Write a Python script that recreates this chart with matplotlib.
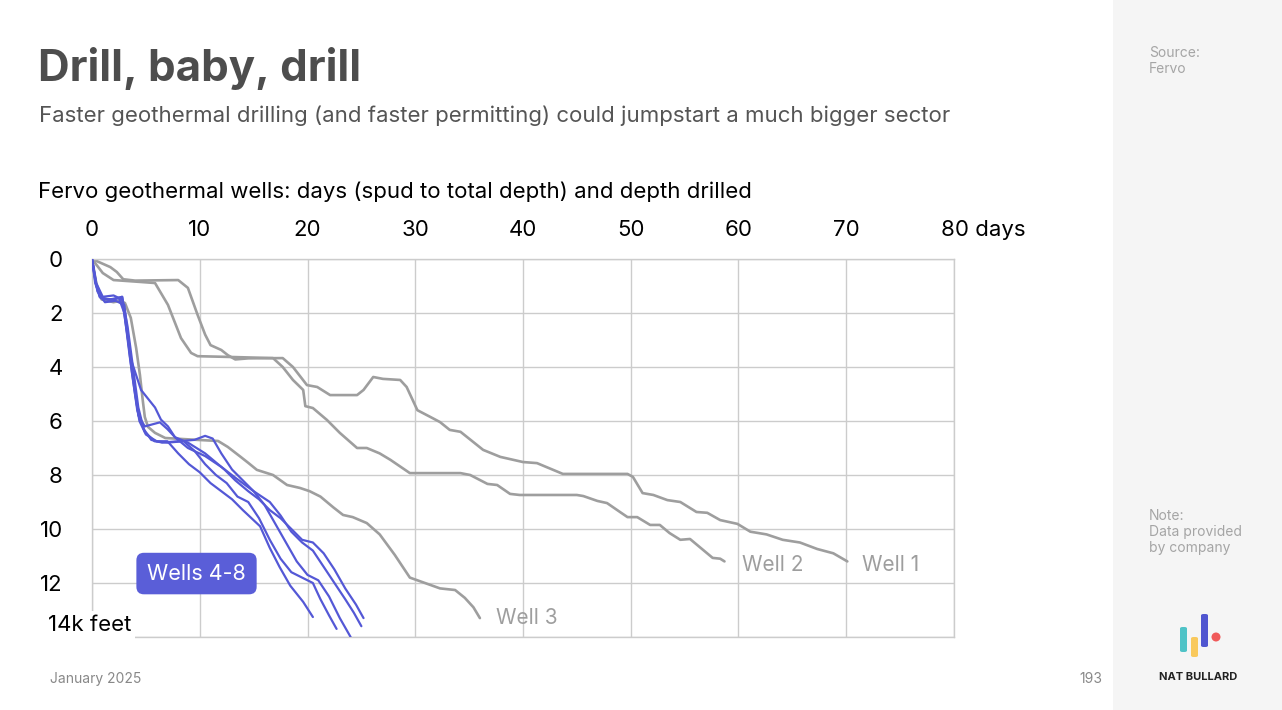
import matplotlib
matplotlib.use("Agg")
import matplotlib.pyplot as plt
from matplotlib.patches import Rectangle, FancyBboxPatch, Ellipse
from matplotlib.transforms import offset_copy

plt.rcParams["font.family"] = ["Inter", "DejaVu Sans"]

# Data: days since spud vs depth (thousand feet)
well1_days = [0, 1.7, 2.3, 2.9, 4, 8, 8.9, 9.8, 10.5, 11.0, 12.0, 12.6, 13.3, 14.5, 17.7,
              18.65, 19.95, 20.9, 22.1, 24.6, 25.2, 26.1, 27.0, 28.6, 29.2, 30.2, 31.4,
              32.3, 33.2, 34.2, 36.3, 37.9, 40.0, 41.3, 43.7, 49.7, 50.2, 51.1, 52.1,
              53.4, 54.6, 56.1, 57.1, 58.3, 59.9, 61.1, 62.6, 64.1, 65.7, 67.3, 68.8, 70.1]
well1_depth = [0, 0.3, 0.48, 0.75, 0.8, 0.78, 1.07, 2.07, 2.8, 3.19, 3.37, 3.56, 3.72, 3.68,
               3.67, 4.0, 4.67, 4.74, 5.04, 5.04, 4.85, 4.37, 4.44, 4.48, 4.74, 5.6, 5.85,
               6.04, 6.33, 6.4, 7.07, 7.33, 7.52, 7.56, 7.96, 7.96, 8.07, 8.67, 8.74,
               8.93, 9.0, 9.37, 9.4, 9.67, 9.81, 10.1, 10.2, 10.4, 10.5, 10.74, 10.9, 11.2]

well2_days = [0, 1.0, 2.0, 4.5, 5.85, 7.05, 8.26, 9.2, 9.8, 12, 16.8, 17.7, 18.65, 19.6,
              19.8, 20.5, 21.8, 23.0, 24.6, 25.5, 26.7, 27.7, 29.5, 34.2, 35.1, 36.7,
              37.6, 38.8, 39.7, 45.0, 45.6, 46.9, 47.8, 49.0, 49.7, 50.6, 51.8, 52.7,
              53.6, 54.6, 55.5, 56.4, 57.6, 58.3, 58.7]
well2_depth = [0, 0.52, 0.78, 0.85, 0.89, 1.7, 2.93, 3.48, 3.6, 3.62, 3.67, 4.0, 4.48, 4.85,
               5.45, 5.52, 5.96, 6.44, 7.0, 7.0, 7.2, 7.44, 7.93, 7.93, 8.0, 8.33,
               8.37, 8.7, 8.74, 8.74, 8.78, 8.96, 9.04, 9.37, 9.56, 9.56, 9.85, 9.85,
               10.15, 10.4, 10.37, 10.67, 11.07, 11.1, 11.2]

well3_days = [0, 0.4, 0.9, 2.0, 2.6, 3.06, 3.6, 4.1, 4.45, 4.7, 4.9, 5.2, 5.85, 6.8, 9.8,
              11.7, 12.6, 13.8, 14.5, 15.3, 16.8, 18.1, 19.3, 20.2, 21.2, 22.4, 23.3,
              24.2, 25.5, 26.7, 28.1, 29.5, 30.9, 32.3, 33.7, 34.6, 35.4, 36.0]
well3_depth = [0, 0.9, 1.5, 1.6, 1.55, 1.63, 2.18, 3.3, 4.3, 5.2, 5.85, 6.22, 6.44, 6.63, 6.7,
               6.74, 6.96, 7.33, 7.55, 7.81, 8.0, 8.37, 8.48, 8.6, 8.8, 9.2, 9.48,
               9.56, 9.78, 10.2, 10.96, 11.8, 12.0, 12.2, 12.26, 12.55, 12.9, 13.3]

well4_days = [0, 0.3, 0.7, 1.5, 2.5, 3.0, 3.5, 4.0, 4.4, 5.0, 6.0, 7.0, 8.0, 9.0, 10.0, 11.0,
              12.0, 13.0, 14.0, 15.6, 16.5, 17.4, 18.4, 19.0, 19.6, 20.5]
well4_depth = [0, 0.8, 1.4, 1.5, 1.45, 2.0, 3.6, 5.0, 6.0, 6.5, 6.75, 6.75, 7.2, 7.6, 7.9, 8.3,
               8.6, 8.9, 9.3, 9.9, 10.7, 11.4, 12.1, 12.4, 12.7, 13.26]

well5_days = [0, 0.4, 1, 2, 2.8, 3.3, 3.8, 4.3, 4.8, 5.5, 6.5, 8.0, 9.5, 10.5, 11.2, 12.0,
              13.0, 14.0, 15.0, 16.0, 17.0, 18.0, 19.0, 20.0, 21.0, 22.0, 23.0, 24.0]
well5_depth = [0, 1.0, 1.5, 1.5, 1.4, 2.5, 4.0, 5.5, 6.3, 6.7, 6.8, 6.75, 6.7, 6.55, 6.65, 7.2,
               7.8, 8.2, 8.6, 9.1, 9.8, 10.5, 11.2, 11.7, 11.9, 12.5, 13.3, 14.0]

well6_days = [0, 0.5, 1.2, 2.2, 3.0, 3.6, 4.0, 4.3, 4.9, 6.3, 7.0, 7.7, 8.9, 10.5, 12.0, 13.3,
              15.0, 16.5, 17.5, 18.5, 19.5, 20.5, 21.5, 22.5, 23.5, 24.3, 25.0]
well6_depth = [0, 1.2, 1.6, 1.55, 1.7, 3.7, 4.9, 5.8, 6.2, 6.05, 6.3, 6.6, 7.0, 7.3, 7.7, 8.1,
               8.6, 9.0, 9.5, 10.1, 10.5, 10.8, 11.4, 12.0, 12.6, 13.1, 13.6]

well7_days = [0, 0.4, 1.0, 2.0, 2.8, 3.6, 4.55, 5.85, 6.4, 7.05, 7.7, 8.9, 10.5, 12.3, 13.3,
              14.5, 15.5, 16.5, 17.5, 18.5, 19.5, 20.5, 21.5, 22.5, 23.5, 24.5, 25.2]
well7_depth = [0, 0.9, 1.4, 1.35, 1.5, 3.7, 4.85, 5.5, 5.95, 6.2, 6.6, 6.8, 7.2, 7.8, 8.2,
               8.6, 8.9, 9.3, 9.6, 10.0, 10.4, 10.5, 10.9, 11.5, 12.2, 12.8, 13.3]

well8_days = [0, 0.3, 0.8, 1.8, 2.8, 3.2, 3.7, 4.2, 4.9, 5.8, 7.0, 8.5, 9.5, 10.5, 11.5, 12.5,
              13.5, 14.5, 15.5, 16.5, 17.5, 18.5, 19.5, 20.5, 21.2, 22.0, 22.7]
well8_depth = [0, 0.9, 1.45, 1.5, 1.4, 2.5, 4.2, 5.6, 6.4, 6.75, 6.8, 6.75, 7.1, 7.6, 8.0, 8.3,
               8.8, 9.0, 9.6, 10.4, 11.1, 11.6, 11.8, 12.0, 12.6, 13.2, 13.7]

gray_wells = [(well1_days, well1_depth), (well2_days, well2_depth), (well3_days, well3_depth)]
blue_wells = [(well4_days, well4_depth), (well5_days, well5_depth), (well6_days, well6_depth),
              (well7_days, well7_depth), (well8_days, well8_depth)]

x_ticks = [0, 10, 20, 30, 40, 50, 60, 70, 80]
y_ticks = [0, 2, 4, 6, 8, 10, 12, 14]

GRAY = "#9e9e9e"
BLUE = "#5458d6"
W, H = 1282, 710

fig = plt.figure(figsize=(W / 100, H / 100), dpi=100)
fig.patch.set_facecolor("white")

# right side panel
fig.patches.append(Rectangle((1113 / W, 0), 1 - 1113 / W, 1, transform=fig.transFigure,
                             facecolor="#f5f5f5", edgecolor="none", zorder=0))

ax = fig.add_axes([92 / W, 1 - 637 / H, (954 - 92) / W, (637 - 259) / H])
ax.set_xlim(0, 80)
ax.set_ylim(14, 0)
ax.set_xticks(x_ticks)
ax.set_yticks(y_ticks)
ax.grid(True, color="#cccccc", linewidth=1)
for s in ax.spines.values():
    s.set_color("#cccccc")
    s.set_linewidth(1)
ax.set_axisbelow(True)
ax.tick_params(length=0, labelsize=16, colors="black")
ax.xaxis.tick_top()
ax.tick_params(axis="x", pad=14)
ax.tick_params(axis="y", pad=21)
ax.set_xticklabels([str(t) for t in x_ticks[:-1]] + [""])
ax.set_yticklabels([str(t) for t in y_ticks[:-1]] + [""])

for d, dep in gray_wells:
    ax.plot(d, dep, color=GRAY, lw=1.9, solid_joinstyle="round", solid_capstyle="round")
for d, dep in blue_wells:
    ax.plot(d, dep, color=BLUE, lw=1.6, solid_joinstyle="round", solid_capstyle="round", zorder=3)

# end labels
ax.text(71.5, 11.35, "Well 1", color=GRAY, fontsize=15, va="center", ha="left")
ax.text(60.3, 11.35, "Well 2", color=GRAY, fontsize=15, va="center", ha="left")
ax.text(37.5, 13.3, "Well 3", color=GRAY, fontsize=15, va="center", ha="left")
ax.text(9.7, 11.65, "Wells 4-8", color="white", fontsize=15.5, va="center", ha="center", zorder=5,
        bbox=dict(boxstyle="round,pad=0.5,rounding_size=0.35", facecolor="#5a5ed8",
                  edgecolor="none"))

# axis end labels
ax.text(80, -1.07, "80 days", fontsize=16, va="center", ha="left",
        transform=offset_copy(ax.transData, fig=fig, x=-13, y=0, units="dots"))
ax.text(-4.1, 13.55, "14k feet", fontsize=16, va="center", ha="left", zorder=6,
        bbox=dict(facecolor="white", edgecolor="none", pad=3), clip_on=False)

# titles
fig.text(38 / W, 1 - 69 / H, "Drill, baby, drill", fontsize=31.5, fontweight="bold",
         color="#4d4d4d", va="center", ha="left")
fig.text(39 / W, 1 - 116 / H, "Faster geothermal drilling (and faster permitting) could jumpstart a much bigger sector",
         fontsize=16, color="#555555", va="center", ha="left")
fig.text(38 / W, 1 - 192 / H, "Fervo geothermal wells: days (spud to total depth) and depth drilled",
         fontsize=16, color="black", va="center", ha="left")

# footer
fig.text(50 / W, 1 - 679 / H, "January 2025", fontsize=10, color="#888888", va="center", ha="left")
fig.text(1091 / W, 1 - 679 / H, "193", fontsize=10, color="#888888", va="center", ha="center")

# side notes
fig.text(1149 / W, 1 - 61 / H, "Source:\nFervo", fontsize=10, color="#a5a5a5", va="center",
         ha="left", linespacing=1.15)
fig.text(1149 / W, 1 - 532 / H, "Note:\nData provided\nby company", fontsize=10, color="#a5a5a5",
         va="center", ha="left", linespacing=1.15)

# logo
for x0, y0, y1, c in [(1180, 627, 652, "#4fc3c7"), (1191, 637, 657, "#f9c95c"),
                      (1201, 614, 647, "#5056d0")]:
    fig.patches.append(FancyBboxPatch((x0 / W, 1 - y1 / H), 7 / W, (y1 - y0) / H,
                                      boxstyle="round,pad=0,rounding_size=0.002",
                                      transform=fig.transFigure, facecolor=c, edgecolor="none"))
fig.patches.append(Ellipse((1216 / W, 1 - 637 / H), 9 / W, 9 / H, transform=fig.transFigure,
                           facecolor="#f05a5a", edgecolor="none"))
fig.text(1198 / W, 1 - 677 / H, "NAT BULLARD", fontsize=8, fontweight="bold", color="#222222",
         va="center", ha="center")

fig.savefig("out.png", dpi=100)
